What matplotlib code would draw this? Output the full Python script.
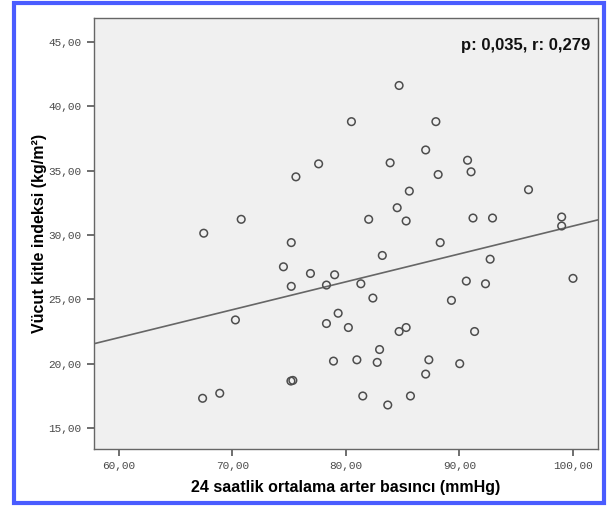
import matplotlib
matplotlib.use("Agg")
import matplotlib.pyplot as plt
import numpy as np
from matplotlib.patches import Rectangle
from matplotlib.ticker import FuncFormatter

# Data
arter_basinci = [84.68, 80.48, 87.92, 87.02, 77.59, 83.89, 90.71, 75.59, 88.12, 91.02,
                 85.58, 96.08, 84.51, 70.77, 82.00, 85.30, 91.19, 92.91, 99.00, 99.00,
                 67.47, 75.18, 88.30, 83.20, 92.70, 74.49, 76.87, 79.00, 78.28, 81.31,
                 75.18, 90.60, 92.29, 100.00, 82.37, 89.29, 79.31, 70.26, 78.28, 80.21,
                 84.68, 85.30, 91.33, 82.96, 78.90, 80.96, 82.75, 87.30, 90.02, 87.02,
                 75.15, 75.32, 67.37, 68.88, 81.48, 85.68, 83.68]
kitle_indeksi = [41.62, 38.81, 38.81, 36.61, 35.53, 35.61, 35.81, 34.52, 34.70, 34.91,
                 33.41, 33.52, 32.12, 31.22, 31.22, 31.09, 31.32, 31.32, 31.40, 30.70,
                 30.14, 29.41, 29.41, 28.41, 28.12, 27.53, 27.01, 26.91, 26.11, 26.21,
                 26.01, 26.42, 26.21, 26.63, 25.10, 24.92, 23.92, 23.40, 23.12, 22.81,
                 22.50, 22.81, 22.50, 21.10, 20.20, 20.30, 20.10, 20.30, 20.00, 19.19,
                 18.65, 18.70, 17.31, 17.70, 17.49, 17.49, 16.79]

# fitted line as drawn in the reference
fit_slope = 0.2168
fit_intercept = 9.02

x_ticks = [60, 70, 80, 90, 100]
y_ticks = [15, 20, 25, 30, 35, 40, 45]

fig = plt.figure(figsize=(6.11, 5.09), dpi=100)
ax = fig.add_axes([0.1538, 0.1179, 0.8249, 0.8461])
ax.set_facecolor("#f0f0f0")

ax.scatter(arter_basinci, kitle_indeksi, s=30, facecolors="none",
           edgecolors="#4d4d4d", linewidths=1.1, zorder=3)

xlim = (57.8, 102.2)
xx = np.array(xlim)
ax.plot(xx, fit_intercept + fit_slope * xx, color="#666666", linewidth=1.2, zorder=2)

ax.set_xlim(*xlim)
ax.set_ylim(13.37, 46.84)
ax.set_xticks(x_ticks)
ax.set_yticks(y_ticks)
fmt = FuncFormatter(lambda v, p: f"{v:.2f}".replace(".", ","))
ax.xaxis.set_major_formatter(fmt)
ax.yaxis.set_major_formatter(fmt)

for lab in ax.get_xticklabels() + ax.get_yticklabels():
    lab.set_fontfamily("Liberation Mono")
    lab.set_fontsize(8)
    lab.set_color("#4a4a4a")
ax.tick_params(direction="out", length=5, width=1.2, color="#555555", pad=4)

for sp in ax.spines.values():
    sp.set_color("#666666")
    sp.set_linewidth(1.0)

ax.set_xlabel("24 saatlik ortalama arter basıncı (mmHg)", fontsize=11.5,
              fontweight="bold", family="Liberation Sans", labelpad=6)
ax.set_ylabel("Vücut kitle indeksi (kg/m²)", fontsize=11.5,
              fontweight="bold", family="Liberation Sans", labelpad=1)

ax.text(0.985, 0.955, "p: 0,035, r: 0,279", transform=ax.transAxes,
        ha="right", va="top", fontsize=12, fontweight="bold",
        family="Liberation Sans", color="#111111")

# blue frame around the whole picture
fig.patches.append(Rectangle((14 / 611, 1 - 503 / 509), 590 / 611, 500 / 509,
                             transform=fig.transFigure, fill=False,
                             edgecolor="#4a5cff", linewidth=3.0))

plt.savefig("out.png", dpi=100)
plt.close()
